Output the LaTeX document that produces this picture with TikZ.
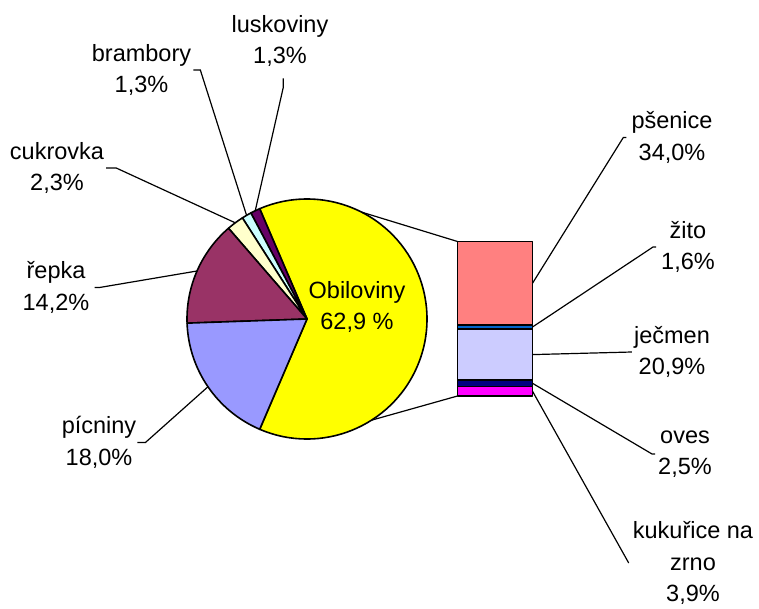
\documentclass[tikz,border=0pt]{standalone}
\usepackage{fontspec}
\setmainfont{Liberation Sans}
\usepackage{tikz}
\usetikzlibrary{calc, positioning}
\definecolor{cObil}{HTML}{FFFF00}
\definecolor{cPicn}{HTML}{9999FF}
\definecolor{cRepka}{HTML}{993366}
\definecolor{cCukr}{HTML}{FFFFCC}
\definecolor{cBramb}{HTML}{CCFFFF}
\definecolor{cLusk}{HTML}{660066}
\definecolor{cPsen}{HTML}{FF8080}
\definecolor{cZito}{HTML}{0066CC}
\definecolor{cJecm}{HTML}{CCCCFF}
\definecolor{cOves}{HTML}{000080}
\definecolor{cKuk}{HTML}{FF00FF}

\begin{document}
\begin{tikzpicture}[x=1pt, y=1pt,
  lbl/.style={align=center, inner sep=0pt, font=\fontsize{23.5}{31.5}\selectfont},
  leader/.style={line width=1.2pt},
  part/.style={line width=1.6pt, line join=round}]
\useasboundingbox (0,0) rectangle (759,608);
\coordinate (c) at (307,289);
% pie
\foreach \a/\b/\col in {-113.22/113.22/cObil, 113.22/117.90/cLusk, 117.90/122.58/cBramb,
  122.58/130.86/cCukr, 130.86/181.98/cRepka, 181.98/246.78/cPicn}
  \filldraw[part, fill=\col] (c) -- ++(\a:120) arc[start angle=\a, end angle=\b, radius=120] -- cycle;
% bar
\foreach \t/\u/\col in {366.5/283.0/cPsen, 283.0/279.07/cZito, 279.07/227.74/cJecm,
  227.74/221.6/cOves, 221.6/212.0/cKuk}
  \filldraw[part, fill=\col] (457.5,\t) rectangle (532.5,\u);
\path (c) ++(63:120) coordinate (top) (c) ++(-57.5:120) coordinate (bot);
\coordinate (bTop) at (457.5,366.5);
\coordinate (bBot) at (457.5,212.0);
\draw[leader] (top) -- (bTop) (bot) -- (bBot);
% points for leaders
\path (c) ++(115.56:120) coordinate (pLusk) (c) ++(120.24:120) coordinate (pBramb)
  (c) ++(126.72:120) coordinate (pCukr) (c) ++(156.42:120) coordinate (pRepka)
  (c) ++(214.38:120) coordinate (pPicn);
\coordinate (bPsen) at (532.5,324.75);
\coordinate (bZito) at (532.5,281.0);
\coordinate (bJecm) at (532.5,253.4);
\coordinate (bOves) at (532.5,224.7);
\coordinate (bKuk) at (532.5,216.8);
% labels
\node[lbl] (obil) at (357,301) {Obiloviny\\62,9 \%};
\node[lbl] (lusk) at (280,567) {luskoviny\\1,3\%};
\node[lbl] (bramb) at (141.5,538) {brambory\\1,3\%};
\node[lbl] (cukr) at (57,440) {cukrovka\\2,3\%};
\node[lbl] (repka) at (56,320.5) {řepka\\14,2\%};
\node[lbl] (picn) at (99,165.5) {pícniny\\18,0\%};
\node[lbl] (psen) at (672,470.5) {pšenice\\34,0\%};
\node[lbl] (zito) at (688,361) {žito\\1,6\%};
\node[lbl] (jecm) at (672,256) {ječmen\\20,9\%};
\node[lbl] (oves) at (685,154) {oves\\2,5\%};
\node[lbl] (kuk) at (693,45) {kukuřice na\\zrno\\3,9\%};
% leaders
\draw[leader] (283.3,529.7) coordinate (lLusk) -- ++(0,-9) -- (pLusk);
\draw[leader] ([xshift=2]bramb.east) -- ++(7,0) -- (pBramb);
\draw[leader] ([xshift=2]cukr.east) -- ++(10,0) -- (pCukr);
\draw[leader] ([xshift=5]repka.east) -- ++(5,0) -- (pRepka);
\draw[leader] ([xshift=1]picn.east) -- ++(8,0) -- (pPicn);
\draw[leader] ([xshift=-5]psen.west) -- ++(-3,0) -- (bPsen);
\draw[leader] ([xshift=-5]zito.west) -- ++(-3,0) -- (bZito);
\draw[leader] ([xshift=-2]jecm.west) -- (bJecm);
\draw[leader] ([xshift=-3]oves.west) -- ++(-3,0) -- (bOves);
\draw[leader] ([xshift=-4]kuk.west) -- (bKuk);
\end{tikzpicture}
\end{document}
